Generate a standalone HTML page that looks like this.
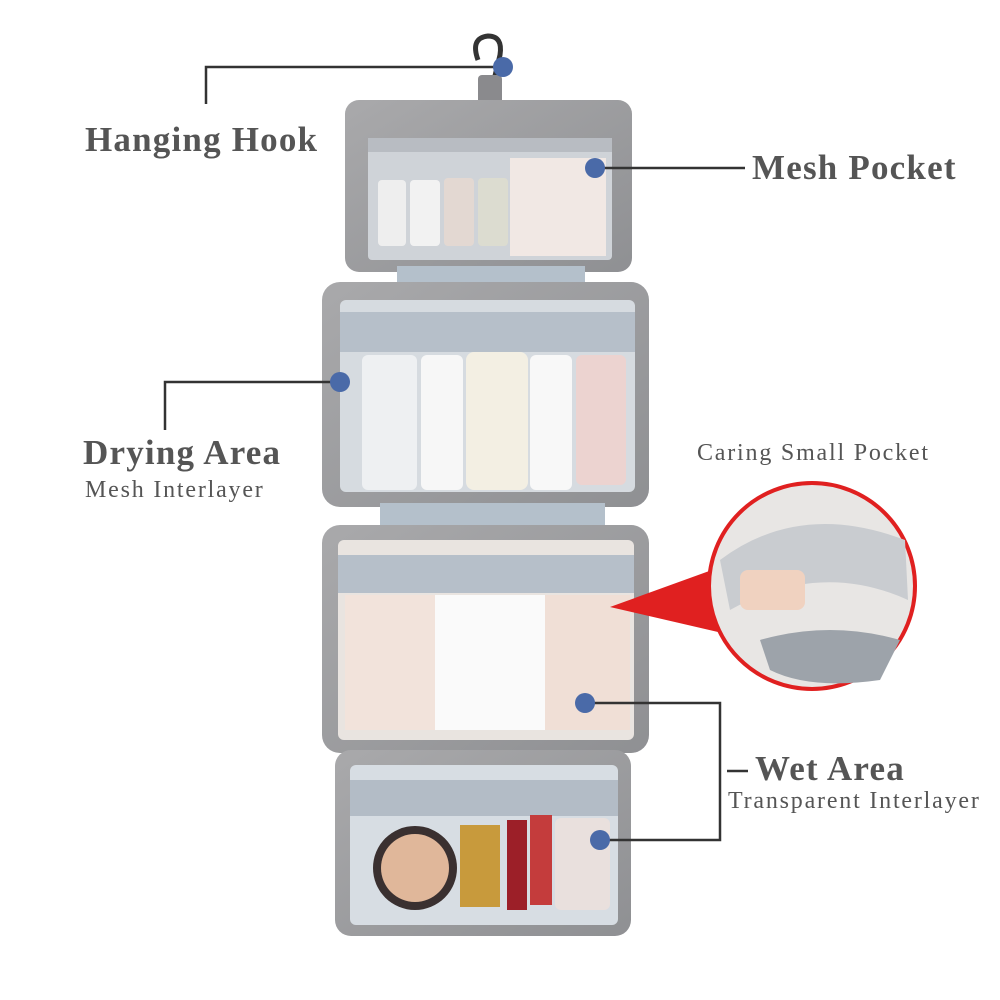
<!DOCTYPE html>
<html><head><meta charset="utf-8"><style>
html,body{margin:0;padding:0;background:#fff;}
.wrap{position:relative;width:1000px;height:1000px;overflow:hidden;background:#fff;font-family:"Liberation Serif",serif;}
.t{position:absolute;color:#555;white-space:nowrap;}
.big{font-size:35px;font-weight:bold;letter-spacing:1.2px;}
.sm{font-size:24px;letter-spacing:1.8px;}
</style></head><body><div class="wrap">
<svg width="1000" height="1000" style="position:absolute;left:0;top:0">
<defs>
<linearGradient id="g" x1="0" y1="0" x2="1" y2="1"><stop offset="0" stop-color="#a9a9ab"/><stop offset="1" stop-color="#8f9093"/></linearGradient>
</defs>
<path d="M478 60 Q470 38 488 36 Q503 36 500 55 L494 80" fill="none" stroke="#333" stroke-width="5"/>
<rect x="478" y="75" width="24" height="35" rx="4" fill="#8a8a8d"/>
<rect x="345" y="100" width="287" height="172" rx="14" fill="url(#g)"/>
<rect x="368" y="148" width="244" height="112" rx="4" fill="#cfd3d8"/>
<rect x="368" y="138" width="244" height="14" fill="#b8bcc2"/>
<rect x="378" y="180" width="28" height="66" rx="4" fill="#eee"/>
<rect x="410" y="180" width="30" height="66" rx="4" fill="#f2f2f2"/>
<rect x="444" y="178" width="30" height="68" rx="4" fill="#e3d8d2"/>
<rect x="478" y="178" width="30" height="68" rx="4" fill="#dcdcd0"/>
<rect x="510" y="158" width="96" height="98" fill="#f1e8e4"/>
<rect x="397" y="266" width="188" height="30" fill="#b4c0cb"/>
<rect x="322" y="282" width="327" height="225" rx="18" fill="url(#g)"/>
<rect x="340" y="300" width="295" height="192" rx="6" fill="#d6dbe0"/>
<rect x="340" y="312" width="295" height="40" fill="#b6bfc9"/>
<rect x="362" y="355" width="55" height="135" rx="6" fill="#eef0f2"/>
<rect x="421" y="355" width="42" height="135" rx="6" fill="#f7f7f7"/>
<rect x="466" y="352" width="62" height="138" rx="8" fill="#f3efe3"/>
<rect x="530" y="355" width="42" height="135" rx="6" fill="#f8f8f8"/>
<rect x="576" y="355" width="50" height="130" rx="6" fill="#ecd3d0"/>
<rect x="380" y="503" width="225" height="28" fill="#b4c0cb"/>
<rect x="322" y="525" width="327" height="228" rx="18" fill="url(#g)"/>
<rect x="338" y="540" width="296" height="200" rx="6" fill="#e9e4e0"/>
<rect x="338" y="555" width="296" height="38" fill="#b6bfc9"/>
<rect x="345" y="595" width="90" height="135" fill="#f2e3db"/>
<rect x="435" y="595" width="110" height="135" fill="#fafafa"/>
<rect x="545" y="595" width="85" height="135" fill="#f0dfd6"/>
<rect x="335" y="750" width="296" height="186" rx="16" fill="url(#g)"/>
<rect x="350" y="765" width="268" height="160" rx="6" fill="#d7dde3"/>
<rect x="350" y="780" width="268" height="36" fill="#b3bcc6"/>
<circle cx="415" cy="868" r="42" fill="#3a3030"/>
<circle cx="415" cy="868" r="34" fill="#e0b79a"/>
<rect x="460" y="825" width="40" height="82" fill="#c89a3c"/>
<rect x="507" y="820" width="20" height="90" fill="#9c1f28"/>
<rect x="530" y="815" width="22" height="90" fill="#c43c3c"/>
<rect x="555" y="818" width="55" height="92" rx="6" fill="#e9e0dd"/>
<polygon points="610,607 712,570 718,632" fill="#e02020"/>
<circle cx="812" cy="586" r="103" fill="#e8e6e4" stroke="#e02020" stroke-width="4"/>
<path d="M720 560 Q800 500 905 540 L908 600 Q820 560 730 610 Z" fill="#c9ccd0"/>
<rect x="740" y="570" width="65" height="40" rx="8" fill="#f0d2c0"/>
<path d="M760 640 Q830 620 900 640 L880 680 Q810 690 770 670 Z" fill="#9da3aa"/>
<g stroke="#333" stroke-width="2.5" fill="none">
<path d="M206 104 V67 H503"/>
<path d="M595 168 H745"/>
<path d="M165 430 V382 H340"/>
<path d="M585 703 H720 V840 H600"/>
<path d="M727 771 H748"/>
</g>
<g fill="#4a6aa8">
<circle cx="503" cy="67" r="10"/>
<circle cx="595" cy="168" r="10"/>
<circle cx="340" cy="382" r="10"/>
<circle cx="585" cy="703" r="10"/>
<circle cx="600" cy="840" r="10"/>
</g>
</svg>
<div class="t big" style="left:85px;top:120px">Hanging Hook</div>
<div class="t big" style="left:752px;top:148px">Mesh Pocket</div>
<div class="t big" style="left:83px;top:433px">Drying Area</div>
<div class="t sm" style="left:85px;top:477px">Mesh Interlayer</div>
<div class="t sm" style="left:697px;top:440px">Caring Small Pocket</div>
<div class="t big" style="left:755px;top:749px">Wet Area</div>
<div class="t sm" style="left:728px;top:788px">Transparent Interlayer</div>
</div></body></html>
